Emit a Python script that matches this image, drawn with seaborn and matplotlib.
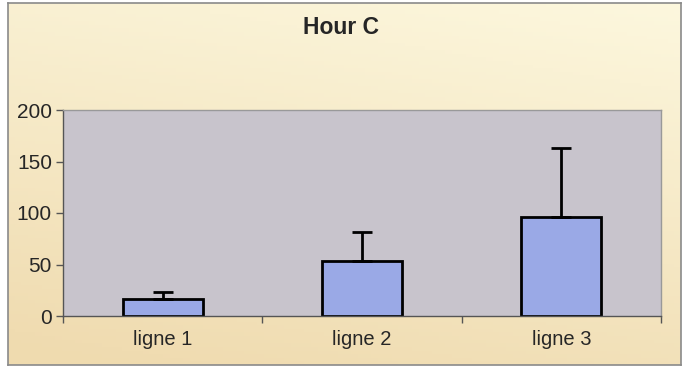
import numpy as np
import pandas as pd
import seaborn as sns
import matplotlib.pyplot as plt

sns.set_style("white")
plt.rcParams['font.family'] = ['Liberation Sans', 'DejaVu Sans']

categories = ["ligne 1", "ligne 2", "ligne 3"]
values = [16.5, 53.5, 96]
errors = [7, 28.5, 67.5]
yticks = [0, 50, 100, 150, 200]

df = pd.DataFrame({"ligne": categories, "valeur": values})

fig = plt.figure(figsize=(6.9, 3.7), dpi=100)
fig.patch.set_facecolor("white")

# beige gradient background inside the chart frame
bg = fig.add_axes([8 / 690, 5 / 370, 673 / 690, 362 / 370], zorder=0)
yy, xx = np.mgrid[0:1:100j, 0:1:100j]
t = np.clip(yy * 0.8 + (1 - xx) * 0.25, 0, 1)
top = np.array([0.99, 0.97, 0.87])
bot = np.array([0.94, 0.86, 0.69])
img = top[None, None, :] * (1 - t[..., None]) + bot[None, None, :] * t[..., None]
bg.imshow(img, aspect="auto", extent=[0, 1, 0, 1], origin="upper")
bg.set_xticks([])
bg.set_yticks([])
for s in bg.spines.values():
    s.set_color("#8a8a8a")
    s.set_linewidth(1.2)

ax = fig.add_axes([63 / 690, 54 / 370, 598 / 690, 206 / 370], zorder=1)
ax.set_facecolor("#c8c4cc")
sns.barplot(data=df, x="ligne", y="valeur", color="#9aa9e6", width=0.4,
            edgecolor="black", linewidth=2, saturation=1, ax=ax)
ax.errorbar(range(len(categories)), values, yerr=[[0] * 3, errors], fmt="none",
            ecolor="black", elinewidth=2, capsize=7, capthick=2)

ax.set_ylim(0, 200)
ax.set_xlim(-0.5, 2.5)
ax.set_yticks(yticks)
ax.set_xticks([-0.5, 0.5, 1.5, 2.5], minor=True)
ax.tick_params(axis="x", which="major", length=0, labelsize=14.5, pad=10)
ax.tick_params(axis="x", which="minor", length=5, width=1, color="#555555", direction="out", bottom=True)
ax.tick_params(axis="y", length=5, width=1, color="#555555", direction="out", left=True,
               labelsize=15, pad=3)
ax.set_xlabel("")
ax.set_ylabel("")
for side in ["top", "right"]:
    ax.spines[side].set_color("#999999")
    ax.spines[side].set_linewidth(1)
for side in ["left", "bottom"]:
    ax.spines[side].set_color("#555555")
    ax.spines[side].set_linewidth(1)

fig.text(341 / 690, 1 - 27 / 370, "Hour C", ha="center", va="center",
         fontsize=16.5, fontweight="bold")

fig.savefig("out.png", dpi=100)
